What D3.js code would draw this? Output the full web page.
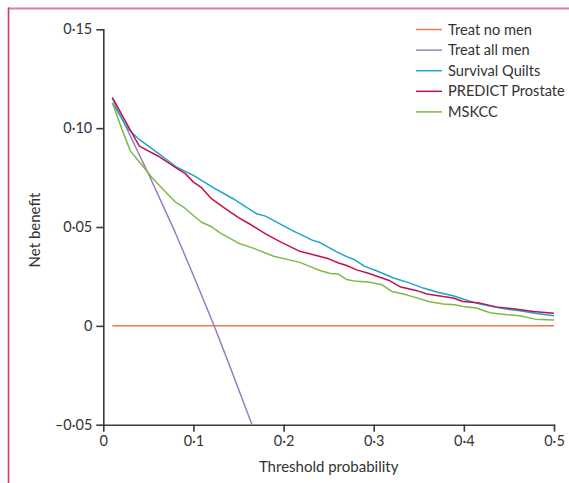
<!DOCTYPE html>
<html>
<head>
<meta charset="utf-8">
<script src="https://cdn.jsdelivr.net/npm/d3@7"></script>
<style>
  body { margin: 0; background: #fff; }
  svg { display: block; font-family: Lato, "Open Sans", sans-serif; }
  .axis path, .axis line { stroke: #3a3a3a; stroke-width: 1.6; }
  .axis text { fill: #333; font-size: 14.5px; font-family: Lato, sans-serif; }
</style>
</head>
<body>
<div id="graph_field"></div>
<script>
// Decision curve: net benefit against threshold probability
const seriesNames = ["Treat no men", "Treat all men", "Survival Quilts", "PREDICT Prostate", "MSKCC"];
const seriesColours = ["#f2774f", "#9b7fc2", "#1ba6c9", "#c2124c", "#7dbb46"];

const xTicks = [0, 0.1, 0.2, 0.3, 0.4, 0.5];
const yTicks = [-0.05, 0, 0.05, 0.10, 0.15];

// [threshold, net benefit]
const treatNone = [[0.01, 0], [0.5, 0]];
const treatAll = [[0.01, 0.1150], [0.05, 0.0770], [0.08, 0.0470], [0.10, 0.0255], [0.123, 0], [0.14, -0.020], [0.165, -0.05]];
const survivalQuilts = [
  [0.010, 0.1128], [0.028, 0.0993], [0.041, 0.0939], [0.061, 0.0872], [0.082, 0.0801], [0.100, 0.0761],
  [0.122, 0.0699], [0.144, 0.0643], [0.170, 0.0567], [0.180, 0.0555], [0.196, 0.0516], [0.211, 0.0479],
  [0.220, 0.0460], [0.231, 0.0435], [0.241, 0.0420], [0.259, 0.0374], [0.270, 0.0350], [0.279, 0.0334],
  [0.290, 0.0301], [0.303, 0.0279], [0.322, 0.0242], [0.338, 0.0220], [0.355, 0.0191], [0.372, 0.0169],
  [0.388, 0.0152], [0.405, 0.0127], [0.418, 0.0110], [0.440, 0.0090], [0.462, 0.0076], [0.481, 0.0062],
  [0.500, 0.0051]
];
const predictProstate = [
  [0.010, 0.1156], [0.030, 0.0990], [0.040, 0.0909], [0.061, 0.0858], [0.082, 0.0795], [0.091, 0.0770],
  [0.100, 0.0727], [0.109, 0.0699], [0.120, 0.0643], [0.133, 0.0601], [0.150, 0.0547], [0.161, 0.0519],
  [0.180, 0.0465], [0.196, 0.0426], [0.218, 0.0377], [0.233, 0.0360], [0.250, 0.0339], [0.261, 0.0318],
  [0.270, 0.0305], [0.281, 0.0283], [0.294, 0.0266], [0.318, 0.0228], [0.329, 0.0198], [0.348, 0.0178],
  [0.359, 0.0161], [0.388, 0.0141], [0.399, 0.0123], [0.418, 0.0115], [0.436, 0.0096], [0.455, 0.0086],
  [0.477, 0.0073], [0.500, 0.0064]
];
const mskcc = [
  [0.010, 0.1128], [0.021, 0.0990], [0.030, 0.0885], [0.043, 0.0812], [0.054, 0.0750], [0.069, 0.0677],
  [0.080, 0.0626], [0.089, 0.0601], [0.100, 0.0558], [0.109, 0.0524], [0.119, 0.0504], [0.130, 0.0469],
  [0.150, 0.0418], [0.167, 0.0392], [0.189, 0.0352], [0.218, 0.0321], [0.229, 0.0301], [0.241, 0.0279],
  [0.252, 0.0265], [0.261, 0.0262], [0.270, 0.0234], [0.281, 0.0225], [0.294, 0.0222], [0.309, 0.0208],
  [0.320, 0.0174], [0.333, 0.0161], [0.346, 0.0144], [0.361, 0.0123], [0.377, 0.0110], [0.390, 0.0107],
  [0.401, 0.0096], [0.414, 0.0090], [0.429, 0.0066], [0.448, 0.0056], [0.462, 0.0051], [0.479, 0.0034],
  [0.500, 0.0030]
];
const allSeries = [treatNone, treatAll, survivalQuilts, predictProstate, mskcc];

const W = 569, H = 483;
const margin = {top: 29.3, right: 15, bottom: 58.3, left: 103.3};
const width = W - margin.left - margin.right;
const height = H - margin.top - margin.bottom;

const svg = d3.select("#graph_field").append("svg")
    .attr("width", W)
    .attr("height", H);

// page frame
svg.append("line")
    .attr("x1", 8).attr("x2", W).attr("y1", 8.5).attr("y2", 8.5)
    .attr("stroke", "#e07d9c").attr("stroke-width", 2);
svg.append("line")
    .attr("x1", 8.5).attr("x2", 8.5).attr("y1", 7.5).attr("y2", H)
    .attr("stroke", "#d6336c").attr("stroke-width", 1.6);

const g = svg.append("g")
    .attr("transform", "translate(" + margin.left + "," + margin.top + ")");

const x = d3.scaleLinear().domain([0, 0.5]).range([0, width]);
const y = d3.scaleLinear().domain([-0.05, 0.15]).range([height, 0]);

g.append("g")
    .attr("class", "axis")
    .attr("transform", "translate(0," + height + ")")
    .call(d3.axisBottom(x).tickValues(xTicks).tickSize(7).tickSizeOuter(0).tickPadding(4)
        .tickFormat(d => d === 0 ? "0" : d3.format(".1f")(d).replace(".", "\u00b7")));

g.append("g")
    .attr("class", "axis")
    .call(d3.axisLeft(y).tickValues(yTicks).tickSize(7).tickSizeOuter(0).tickPadding(4)
        .tickFormat(d => d === 0 ? "0" : d3.format(".2f")(d).replace(".", "\u00b7").replace("-", "\u2013").replace("\u2212", "\u2013")));

g.selectAll(".axis .domain").attr("stroke-linecap", "square");

svg.append("text")
    .attr("x", margin.left + width / 2)
    .attr("y", 472)
    .attr("text-anchor", "middle")
    .attr("font-size", 15)
    .attr("fill", "#333")
    .text("Threshold probability");

svg.append("text")
    .attr("transform", "translate(40," + (margin.top + y(0.05) + 3) + ") rotate(-90)")
    .attr("text-anchor", "middle")
    .attr("font-size", 15)
    .attr("fill", "#333")
    .text("Net benefit");

const line = d3.line()
    .x(d => x(d[0]))
    .y(d => y(d[1]));

allSeries.forEach((s, i) => {
    g.append("path")
        .datum(s)
        .attr("fill", "none")
        .attr("stroke", seriesColours[i])
        .attr("stroke-width", 1.5)
        .attr("stroke-linejoin", "round")
        .attr("d", line);
});

// legend
const legend = svg.append("g").attr("transform", "translate(416,29.5)");
seriesNames.forEach((name, i) => {
    const row = legend.append("g").attr("transform", "translate(0," + (i * 20.6) + ")");
    row.append("line")
        .attr("x1", 0).attr("x2", 26).attr("y1", 0).attr("y2", 0)
        .attr("stroke", seriesColours[i]).attr("stroke-width", 1.5);
    row.append("text")
        .attr("x", 32).attr("y", 0).attr("dy", "0.35em")
        .attr("font-size", 14.6)
        .attr("fill", "#333")
        .text(name);
});
</script>
</body>
</html>
